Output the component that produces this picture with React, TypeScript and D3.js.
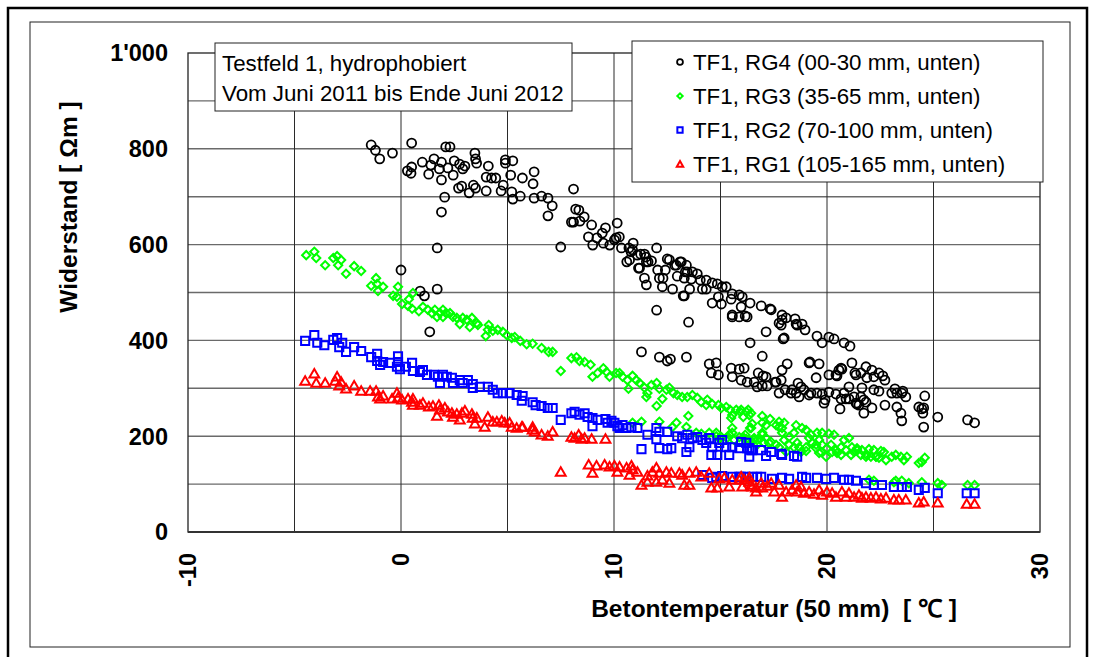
import React from 'react';
import * as d3 from 'd3';

// Betontemperatur [°C], Widerstand [Ωm]
const rg4: [number, number][] = [
  [-1.4, 808], [-1.2, 797], [-1.0, 779], [-0.4, 791], [0.5, 812], [2.1, 804], [2.3, 804], [1.0, 772], [1.55, 779],
  [1.9, 772], [1.4, 766], [1.8, 758], [1.3, 747], [0.3, 754], [0.47, 749], [0.5, 762], [1.9, 735], [2.45, 745],
  [2.2, 760], [2.5, 775], [2.75, 768], [3.0, 764], [2.9, 758], [3.47, 791], [3.5, 779], [3.55, 770], [4.1, 764],
  [4.0, 741], [4.25, 739], [4.45, 739], [4.9, 777], [5.25, 775], [4.9, 770], [5.15, 745], [5.7, 739], [6.25, 752],
  [6.2, 727], [4.8, 724], [4.7, 712], [5.2, 710], [5.25, 695], [5.6, 701], [6.25, 697], [6.6, 701], [6.9, 697],
  [7.1, 681], [6.9, 660], [2.7, 718], [2.85, 722], [3.4, 724], [3.5, 718], [3.2, 708], [4.0, 712], [2.05, 699],
  [1.9, 668], [1.7, 593], [0, 547], [1.7, 507], [0.9, 503], [1.1, 493], [1.35, 418], [7.5, 595], [8.1, 716],
  [8.2, 674], [8.35, 672], [8.0, 647], [8.1, 647], [8.4, 649], [8.6, 658], [8.95, 641], [8.8, 616], [9.0, 599],
  [9.2, 614], [9.45, 624], [9.6, 635], [9.5, 603], [9.8, 599], [10.15, 645], [10.1, 614], [10.25, 616], [10.35, 593],
  [10.7, 593], [10.9, 603], [10.8, 585], [10.6, 564], [11.15, 551], [11.25, 580], [11.5, 574], [11.6, 564],
  [12.0, 593], [12.05, 547], [12.3, 530], [12.5, 570], [12.75, 507], [12.85, 557], [13.1, 564], [13.25, 493],
  [13.4, 557], [13.55, 507], [13.35, 543], [13.5, 438], [12.0, 463],
  [10.02, 610], [10.87, 589], [10.73, 568], [11.1, 578], [11.43, 580], [11.2, 551], [11.52, 564], [11.76, 566],
  [11.43, 530], [11.52, 516], [12.13, 530], [12.27, 512], [12.6, 568], [12.41, 547], [12.93, 557], [13.16, 564],
  [12.97, 534], [13.44, 543], [13.3, 530], [13.68, 543], [13.91, 539], [13.63, 528], [14.15, 507], [14.33, 507],
  [14.33, 526], [14.61, 520], [14.61, 478], [14.85, 518], [15.08, 512], [14.9, 491], [15.04, 476], [15.27, 512],
  [15.5, 486], [15.55, 453], [15.55, 449], [15.88, 495], [16.02, 491], [15.97, 470], [15.88, 449], [16.16, 451],
  [16.25, 449], [16.39, 478], [16.39, 395], [16.91, 472], [17.14, 418], [17.33, 466], [17.89, 453], [17.75, 436],
  [17.89, 443], [17.94, 403], [18.5, 445], [18.55, 434], [18.83, 434], [18.97, 422], [19.53, 409], [19.77, 395],
  [20.09, 407], [20.33, 403], [20.8, 395], [21.08, 388], [14.05, 526], [13.3, 493], [15.55, 497], [17.38, 464],
  [17.85, 432], [18.08, 447], [17.99, 405], [18.6, 432],
  [11.29, 376], [12.13, 365], [12.5, 357], [12.65, 361], [13.4, 365], [14.47, 351], [14.8, 353], [14.57, 332],
  [14.9, 328], [15.5, 342], [15.88, 340], [16.11, 342], [16.96, 367], [16.77, 332], [17.0, 326], [17.89, 338],
  [18.13, 351], [19.2, 355], [19.63, 351], [20.09, 328], [20.42, 328],
  [15.55, 324], [16.25, 313], [16.58, 313], [17.14, 324], [16.72, 303], [17.19, 305], [17.61, 313], [17.85, 317],
  [17.75, 290], [18.03, 297], [18.31, 290], [18.55, 290], [18.64, 311], [18.78, 303], [18.92, 297], [18.69, 282],
  [19.49, 322], [19.25, 290], [19.53, 290], [19.77, 288], [19.91, 276], [19.86, 269], [20.47, 326], [20.66, 342],
  [20.09, 292], [20.42, 288], [20.66, 278], [20.8, 290], [21.03, 278], [20.61, 257], [21.17, 353], [21.59, 332],
  [21.31, 332], [21.64, 301], [21.59, 282], [21.41, 267], [21.83, 271], [21.83, 345], [22.11, 338], [22.2, 324],
  [22.44, 332], [22.62, 326], [22.72, 317], [22.2, 297], [22.44, 294], [22.72, 265], [22.11, 259], [21.73, 248],
  [23.04, 290], [23.28, 290], [23.19, 299], [23.51, 290], [23.7, 282], [23.56, 294], [23.28, 261], [23.47, 248],
  [23.51, 232], [24.31, 261], [24.45, 257], [24.59, 284], [24.54, 259], [24.5, 248], [24.54, 219], [25.2, 240],
  [26.6, 234], [26.93, 228], [19.16, 286], [15.97, 317], [16.96, 305], [17.56, 313], [18.36, 297], [19.16, 353],
  [20.56, 338], [20.7, 340], [21.03, 303], [20.89, 278], [21.27, 282], [21.36, 269], [21.5, 265], [21.73, 276],
  [21.87, 322], [21.36, 328],
];

const rg3: [number, number][] = [
  [-4.45, 578], [-4.07, 585], [-3.98, 572], [-3.56, 557], [-3.18, 572], [-3.0, 576], [-2.81, 568], [-2.95, 557],
  [-2.58, 539], [-2.2, 555], [-1.87, 545], [-1.17, 530], [-1.12, 518], [-1.4, 514], [-1.08, 503], [-0.84, 512],
  [-0.14, 512], [-0.37, 493], [-0.19, 491], [0.05, 476], [0.37, 486], [0.56, 499], [0.33, 472], [0.52, 466],
  [0.84, 461], [1.03, 470], [1.26, 464], [1.45, 457], [1.59, 464], [1.69, 449], [1.83, 457], [1.97, 464],
  [2.11, 457], [1.97, 449], [2.3, 457], [2.44, 449], [2.62, 447], [2.9, 447], [2.76, 434], [3.09, 443],
  [3.33, 447], [3.23, 428], [3.56, 436], [3.61, 432], [4.12, 432], [4.08, 422], [3.98, 409], [4.31, 420],
  [4.54, 422], [4.78, 418], [4.97, 411], [5.2, 405], [5.34, 407], [5.6, 399], [5.9, 392],
  [6.18, 393], [6.6, 384], [6.93, 376], [7.12, 376], [7.5, 336], [8.0, 363], [8.24, 365], [8.38, 357],
  [8.62, 355], [8.9, 349], [8.99, 324], [9.23, 332], [9.5, 342], [9.65, 334], [9.79, 324], [10.1, 332],
  [10.26, 332], [10.4, 324], [10.63, 317], [10.87, 326], [11.05, 317], [10.68, 299], [11.2, 311], [11.43, 301],
  [11.57, 290], [11.52, 282], [11.76, 307], [12.0, 311], [12.13, 299], [12.46, 297], [12.6, 301], [12.79, 290],
  [12.97, 286], [12.27, 278], [12.0, 263], [13.2, 282], [13.44, 282], [13.68, 286], [13.91, 280], [14.1, 271],
  [14.38, 276], [14.33, 265], [14.61, 267], [14.9, 265], [15.04, 259], [15.27, 261], [15.45, 255], [15.55, 244],
  [15.74, 255], [15.92, 251], [16.07, 240], [16.3, 255], [16.35, 244], [16.39, 217], [15.5, 238], [13.49, 242],
  [11.29, 230], [12.13, 230], [13.4, 219], [14.47, 207], [14.8, 207], [14.94, 196], [15.31, 196], [15.55, 207],
  [15.88, 198], [16.35, 192], [16.58, 196], [16.72, 192], [10.87, 228], [12.74, 219], [12.93, 228],
  [13.86, 207], [14.1, 205], [14.8, 200], [15.04, 198], [15.41, 203], [15.55, 217], [15.64, 192], [16.21, 194],
  [16.16, 203], [16.49, 226], [16.96, 228], [16.96, 207], [17.14, 196], [17.61, 223], [17.75, 219], [17.89, 217],
  [16.49, 188], [16.72, 182], [17.28, 186], [17.61, 182], [17.75, 177], [18.08, 167], [18.22, 198], [18.45, 207],
  [18.6, 186], [18.78, 167], [19.02, 177], [19.25, 203], [19.3, 186], [19.49, 175], [19.63, 165], [19.77, 182],
  [20.0, 175], [20.24, 167], [20.47, 165], [20.66, 177], [20.89, 171], [21.13, 161], [21.27, 167], [21.41, 171],
  [21.59, 161], [21.87, 161], [22.06, 157], [22.3, 157], [22.44, 155],
  [15.97, 255], [16.21, 251], [16.44, 248], [16.96, 242], [17.33, 236], [17.14, 223], [17.75, 230], [17.99, 228],
  [18.55, 223], [18.83, 217], [19.02, 213], [16.44, 217], [16.11, 196], [16.58, 192], [16.96, 203], [17.05, 186],
  [17.38, 188], [17.89, 207], [17.99, 192], [18.22, 182], [18.45, 177], [18.69, 177], [19.02, 169], [19.16, 196],
  [19.53, 207], [19.63, 192], [19.77, 207], [20.09, 205], [20.33, 203], [19.49, 182], [19.72, 167], [19.96, 157],
  [20.19, 182], [20.42, 171], [20.66, 161], [20.8, 192], [21.03, 196], [21.17, 177], [21.41, 175], [21.64, 171],
  [21.83, 157], [21.97, 173], [22.2, 171], [22.3, 157], [22.53, 169], [22.67, 167], [22.77, 150], [23.04, 157],
  [23.23, 161], [23.47, 157], [23.61, 150], [23.75, 157], [24.31, 144], [24.45, 146], [24.59, 155],
  [21.97, 109], [22.2, 107], [23.14, 104], [23.23, 107], [23.51, 107], [23.84, 102], [24.45, 104], [25.2, 102],
  [25.39, 98], [26.6, 98], [26.93, 98],
];

const rg2: [number, number][] = [
  [-4.5, 399], [-4.07, 411], [-3.93, 395], [-3.6, 390], [-3.18, 401], [-3.0, 405], [-2.76, 395], [-2.9, 386],
  [-2.58, 376], [-2.2, 386], [-1.87, 378], [-1.4, 365], [-1.12, 372], [-1.12, 357], [-0.98, 349], [-0.84, 355],
  [-0.52, 353], [-0.14, 367], [-0.14, 355], [-0.19, 345], [-0.05, 340], [0.23, 345], [0.52, 353], [0.56, 336],
  [0.89, 334], [1.03, 338], [1.22, 328], [1.55, 328], [1.73, 324], [1.97, 328], [1.83, 311], [2.15, 324],
  [2.39, 322], [2.44, 311], [2.76, 317], [2.9, 311], [3.14, 317], [3.37, 309], [3.37, 301], [3.7, 303],
  [4.08, 303], [4.31, 297], [4.54, 290], [4.78, 290], [5.1, 290], [5.43, 286], [5.71, 284], [5.67, 274],
  [6.18, 271], [6.32, 265], [6.6, 263], [6.89, 259], [7.12, 259], [7.5, 234], [8.0, 248], [8.15, 251],
  [8.38, 245], [8.62, 248], [8.76, 240], [8.99, 238], [8.99, 221], [9.23, 234], [9.6, 236], [9.7, 228],
  [9.88, 232], [10.02, 228], [10.16, 221], [10.26, 217], [10.4, 223], [10.59, 217], [10.82, 219], [11.1, 217],
  [11.29, 173], [11.57, 203], [11.99, 217], [12.13, 209], [11.99, 194], [12.13, 175], [12.5, 209], [12.5, 173],
  [12.69, 175], [12.97, 200], [13.2, 196], [13.44, 203], [13.4, 167], [13.54, 177], [13.68, 196], [13.91, 198],
  [14.15, 192], [14.33, 186], [14.47, 196], [14.61, 177], [14.57, 161], [14.85, 161], [14.94, 186], [15.08, 192],
  [15.27, 177], [15.41, 161], [15.55, 177], [15.88, 175], [15.97, 188], [16.21, 186], [16.35, 175], [16.49, 171],
  [16.25, 175], [16.44, 171], [16.35, 157], [16.91, 171], [17.14, 159], [17.38, 167], [17.85, 163], [17.89, 161],
  [18.45, 159], [18.6, 157],
  [14.15, 119], [14.61, 113], [14.8, 115], [15.08, 117], [15.55, 115], [15.88, 115], [16.21, 115], [16.49, 115],
  [16.72, 115], [15.97, 115], [16.91, 115], [17.42, 111], [17.89, 113], [18.22, 111], [18.83, 115], [19.02, 113],
  [19.53, 113], [19.96, 111], [20.33, 113], [20.8, 109], [21.03, 109], [21.36, 107], [21.83, 102], [22.2, 98],
  [22.58, 98], [23.14, 94], [23.51, 94], [23.75, 94], [24.31, 88], [24.59, 92], [25.2, 81], [26.56, 81],
  [26.93, 81],
];

const rg1: [number, number][] = [
  [-4.5, 315], [-4.07, 330], [-3.98, 311], [-3.56, 311], [-3.09, 315], [-3.0, 324], [-2.81, 313], [-2.9, 305],
  [-2.58, 299], [-2.2, 305], [-1.87, 294], [-1.45, 294], [-1.17, 294], [-1.08, 282], [-0.98, 278], [-0.84, 284],
  [-0.42, 278], [-0.19, 290], [-0.14, 280], [0.05, 276], [0.33, 278], [0.52, 271], [0.56, 265], [0.56, 278],
  [0.89, 265], [1.03, 269], [1.31, 261], [1.5, 263], [1.78, 265], [1.69, 242], [1.83, 255], [2.06, 259],
  [2.2, 251], [2.39, 248], [2.44, 240], [2.62, 246], [2.86, 248], [3.0, 253], [2.76, 234], [3.33, 246],
  [3.37, 238], [3.56, 238], [3.47, 226], [3.93, 219], [4.08, 240], [4.31, 230], [4.5, 230], [4.73, 232],
  [4.87, 228], [5.1, 228], [5.2, 219], [5.43, 217], [5.67, 219], [6.18, 213], [5.71, 219], [6.18, 219],
  [6.28, 209], [6.6, 203], [6.89, 200], [7.12, 209], [8.0, 198], [8.15, 196], [8.34, 203], [8.48, 194],
  [8.62, 196], [8.95, 194], [9.6, 194], [7.5, 125],
  [8.81, 140], [8.99, 123], [9.18, 138], [9.56, 140], [9.79, 136], [10.02, 138], [10.16, 125], [10.26, 136],
  [10.59, 134], [10.82, 138], [10.87, 130], [10.73, 119], [11.1, 125], [11.29, 98], [11.57, 117], [11.57, 104],
  [11.8, 125], [11.99, 134], [12.13, 123], [12.46, 125], [11.99, 104], [12.27, 109], [12.6, 102], [12.69, 123],
  [13.07, 123], [13.2, 119], [13.3, 98], [13.54, 98], [13.54, 123], [13.86, 125], [14.1, 115], [14.47, 123],
  [14.57, 92], [14.85, 92], [14.94, 111], [15.18, 113], [15.41, 94], [15.55, 109], [15.88, 109], [16.02, 94],
  [16.35, 104], [16.49, 94], [16.67, 84],
  [15.97, 115], [16.11, 109], [16.35, 113], [16.44, 98], [16.67, 92], [16.91, 102], [16.96, 92], [17.19, 96],
  [17.38, 102], [17.52, 84], [17.75, 98], [17.89, 73], [18.08, 84], [18.36, 88], [18.55, 98], [18.6, 84],
  [18.78, 94], [18.92, 81], [19.16, 84], [19.39, 79], [19.63, 88], [19.77, 77], [20.0, 84], [20.24, 81],
  [20.42, 73], [20.7, 84], [20.89, 73], [21.03, 81], [21.27, 73], [21.5, 77], [21.64, 71], [21.83, 73],
  [22.06, 71], [22.3, 73], [22.53, 69], [22.77, 71], [23.14, 67], [23.37, 67], [23.7, 67], [24.31, 61],
  [24.54, 63], [25.2, 61], [26.56, 58], [26.93, 58],
];

const xTicks = [-10, 0, 10, 20, 30];
const yTicks = [0, 200, 400, 600, 800, 1000];
const xGrid = [-5, 0, 5, 10, 15, 20, 25];
const yGrid = [100, 200, 300, 400, 500, 600, 700, 800, 900];
const legendLabels = [
  'TF1, RG4 (00-30 mm, unten)',
  'TF1, RG3 (35-65 mm, unten)',
  'TF1, RG2 (70-100 mm, unten)',
  'TF1, RG1 (105-165 mm, unten)',
];

const FONT = '"Liberation Sans", Arial, sans-serif';

const x = d3.scaleLinear().domain([-10, 30]).range([188, 1040]);
const y = d3.scaleLinear().domain([0, 1000]).range([532, 53]);

const square = d3.symbol().type(d3.symbolSquare);
const tri = d3.symbol().type(d3.symbolTriangle);

type Kind = 'circle' | 'diamond' | 'square' | 'triangle';

function Marker({ kind, cx, cy, small }: { kind: Kind; cx: number; cy: number; small?: boolean }) {
  const k = small ? 0.65 : 1;
  if (kind === 'circle') {
    return <circle cx={cx} cy={cy} r={4.5 * k} fill="none" stroke="#000" strokeWidth={1.8} />;
  }
  if (kind === 'diamond') {
    return (
      <path d={square.size(34 * k * k)()!} transform={`translate(${cx},${cy}) rotate(45)`}
        fill="none" stroke="#00ff00" strokeWidth={2} />
    );
  }
  if (kind === 'square') {
    return (
      <path d={square.size(66 * k * k)()!} transform={`translate(${cx},${cy})`}
        fill="none" stroke="#0000ff" strokeWidth={2} />
    );
  }
  return (
    <path d={tri.size(42 * k * k)()!} transform={`translate(${cx},${cy + 0.8})`}
      fill="none" stroke="#ff0000" strokeWidth={2} />
  );
}

const series: { data: [number, number][]; kind: Kind }[] = [
  { data: rg4, kind: 'circle' },
  { data: rg3, kind: 'diamond' },
  { data: rg2, kind: 'square' },
  { data: rg1, kind: 'triangle' },
];

export default function App() {
  const [x0, x1] = x.range();
  const [y0, y1] = y.range();
  return (
    <svg width={1093} height={657} style={{ position: 'absolute', left: 0, top: 0, background: '#fff' }}
      fontFamily={FONT}>
      <rect x={0} y={0} width={1093} height={657} fill="#fff" />
      {/* page frames */}
      <rect x={8} y={8} width={1079} height={670} fill="none" stroke="#000" strokeWidth={2.5} />
      <rect x={30} y={22} width={1040} height={625} fill="none" stroke="#222" strokeWidth={1} />

      {/* grid */}
      {yGrid.map(v => (
        <line key={'h' + v} x1={x0} x2={x1} y1={y(v)} y2={y(v)} stroke="#6a6a6a" strokeWidth={1.4} />
      ))}
      {xGrid.map(v => (
        <line key={'v' + v} x1={x(v)} x2={x(v)} y1={y1} y2={y0} stroke="#2a2a2a" strokeWidth={1} />
      ))}
      <rect x={x0} y={y1} width={x1 - x0} height={y0 - y1} fill="none" stroke="#222" strokeWidth={1.3} />
      <line x1={x0} x2={x1} y1={y0} y2={y0} stroke="#333" strokeWidth={2.2} />

      {/* points */}
      {series.map(s => (
        <g key={s.kind}>
          {s.data.map((d, i) => <Marker key={i} kind={s.kind} cx={x(d[0])} cy={y(d[1])} />)}
        </g>
      ))}

      {/* y ticks */}
      {yTicks.map(v => (
        <text key={'yt' + v} x={168} y={y(v)} dy="0.36em" textAnchor="end" fontSize={23.5} fontWeight="bold">
          {v === 1000 ? "1'000" : String(v)}
        </text>
      ))}
      {/* x ticks */}
      {xTicks.map(v => (
        <text key={'xt' + v} transform={`translate(${x(v)},553) rotate(-90)`} dy="0.36em" textAnchor="end"
          fontSize={23.5} fontWeight="bold">
          {String(v)}
        </text>
      ))}

      {/* axis titles */}
      <text transform="translate(68,207) rotate(-90)" dy="0.36em" textAnchor="middle" fontSize={24.5} fontWeight="bold">
        Widerstand [ Ωm ]
      </text>
      <text x={774} y={617} textAnchor="middle" fontSize={24.5} fontWeight="bold" style={{ whiteSpace: 'pre' }}>
        {'Betontemperatur (50 mm)  [ ℃ ]'}
      </text>

      {/* info box */}
      <rect x={215} y={43} width={357} height={68} fill="#fff" stroke="#222" strokeWidth={1} />
      <text x={222} y={71} fontSize={22.3}>Testfeld 1, hydrophobiert</text>
      <text x={222} y={101} fontSize={22.3}>Vom Juni 2011 bis Ende Juni 2012</text>

      {/* legend */}
      <rect x={632} y={41} width={411} height={141} fill="#fff" stroke="#222" strokeWidth={1} />
      {series.map((s, i) => (
        <g key={'lg' + i}>
          <Marker kind={s.kind} cx={680} cy={62 + i * 34} small />
          <text x={693} y={62 + i * 34} dy="0.36em" fontSize={22.3}>{legendLabels[i]}</text>
        </g>
      ))}
    </svg>
  );
}
